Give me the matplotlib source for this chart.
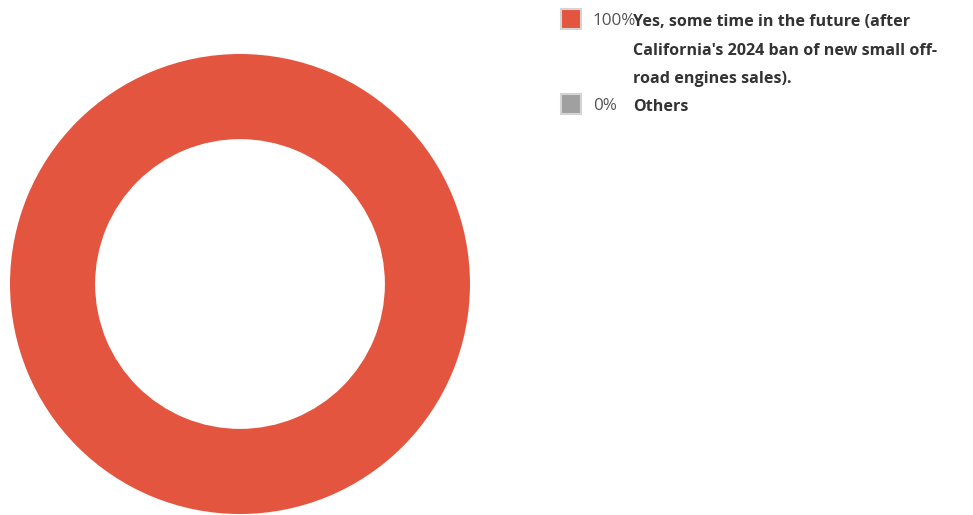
import matplotlib.pyplot as plt
from matplotlib.patches import Rectangle

labels = ["Yes, some time in the future (after\nCalifornia's 2024 ban of new small off-\nroad engines sales).", "Others"]
values = [100, 0]
colors = ['#e4553f', '#a0a0a0']

W, H = 973, 515
fig = plt.figure(figsize=(W / 100, H / 100), dpi=100)

# donut: outer radius 230 px, centred at (240, 284) from the top-left
cx, cy, r = 240, 284, 230
ax = fig.add_axes([(cx - r) / W, (H - cy - r) / H, 2 * r / W, 2 * r / H])
ax.pie(values, colors=colors, radius=1, startangle=90, counterclock=False,
       wedgeprops=dict(width=0.37, linewidth=0))
ax.set_xlim(-1, 1)
ax.set_ylim(-1, 1)
ax.set_aspect('equal')
ax.axis('off')

total = sum(values)
rows_y = [8, 93]
for lab, v, c, y in zip(labels, values, colors, rows_y):
    fig.patches.append(Rectangle((561 / W, 1 - (y + 21) / H), 20 / W, 20 / H,
                                 transform=fig.transFigure, facecolor=c,
                                 edgecolor='#d4d4d4', linewidth=1.5))
    fig.text(593 / W, 1 - (y + 13) / H, '{:.0f}%'.format(v / total * 100),
             fontsize=12.3, family='Open Sans', color='#555555', va='center')
    fig.text(633 / W, 1 - (y + 6) / H, lab, fontsize=11.6, family='Open Sans',
             fontweight='bold', color='#333333', va='top', linespacing=2.05)

fig.savefig('out.png', dpi=100)
